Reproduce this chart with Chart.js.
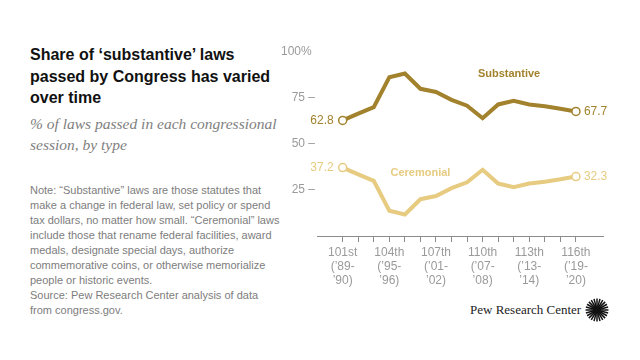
<!DOCTYPE html>
<html>
<head>
<meta charset="utf-8">
<script src="https://cdn.jsdelivr.net/npm/chart.js@4/dist/chart.umd.min.js"></script>
<style>
  html, body { margin: 0; padding: 0; background: #fff; }
  #wrap { position: relative; width: 640px; height: 360px; overflow: hidden; font-family: "Liberation Sans", Arial, sans-serif; }
  #title { position: absolute; left: 30px; top: 44px; font-size: 16px; font-weight: bold; line-height: 21.5px; color: #111; white-space: nowrap; }
  #subtitle { position: absolute; left: 30px; top: 113px; font-family: "Liberation Serif", serif; font-style: italic; font-size: 15.5px; line-height: 21px; color: #808080; white-space: nowrap; }
  #note { position: absolute; left: 30px; top: 183px; font-size: 11px; line-height: 15px; color: #7d7d7d; white-space: nowrap; }
  #brand { position: absolute; left: 470px; top: 302px; font-family: "Liberation Serif", serif; font-size: 13px; color: #222; white-space: nowrap; }
  #logo { position: absolute; left: 585px; top: 298px; }
  canvas { position: absolute; left: 0; top: 0; }
</style>
</head>
<body>
<div id="wrap">
  <div id="title">Share of ‘substantive’ laws<br>passed by Congress has varied<br>over time</div>
  <div id="subtitle">% of laws passed in each congressional<br>session, by type</div>
  <div id="note">Note: “Substantive” laws are those statutes that<br>make a change in federal law, set policy or spend<br>tax dollars, no matter how small. “Ceremonial” laws<br>include those that rename federal facilities, award<br>medals, designate special days, authorize<br>commemorative coins, or otherwise memorialize<br>people or historic events.<br>Source: Pew Research Center analysis of data<br>from congress.gov.</div>
  <div id="brand">Pew Research Center</div>
  <svg id="logo" width="24" height="24" viewBox="0 0 24 24"></svg>
  <canvas id="chart" width="640" height="360"></canvas>
</div>
<script>
// congress numbers, 101st ('89-'90) to 116th ('19-'20)
const congress = [101, 102, 103, 104, 105, 106, 107, 108, 109, 110, 111, 112, 113, 114, 115, 116];
const substantive = [62.8, 66.5, 70.0, 86.3, 88.3, 80.0, 78.3, 74.0, 70.8, 64.0, 71.5, 73.5, 71.5, 70.5, 69.2, 67.7];
const ceremonial = [37.2, 33.5, 30.0, 13.7, 11.7, 20.0, 21.7, 26.0, 29.2, 36.0, 28.5, 26.5, 28.5, 29.5, 30.8, 32.3];

const labelledCongress = [101, 104, 107, 110, 113, 116];
const congressNames = ["101st", "104th", "107th", "110th", "113th", "116th"];
const congressYears = [["(’89-", "’90)"], ["(’95-", "’96)"], ["(’01-", "’02)"], ["(’07-", "’08)"], ["(’13-", "’14)"], ["(’19-", "’20)"]];
const yTicks = [25, 50, 75, 100];

const darkGold = "#a2822d";
const lightGold = "#e6cb81";

// pew sunburst
const svg = document.getElementById("logo");
let rays = "";
for (let i = 0; i < 24; i++) {
  const a = i * Math.PI * 2 / 24;
  rays += `<line x1="${12 + 3 * Math.cos(a)}" y1="${12 + 3 * Math.sin(a)}" x2="${12 + 11.5 * Math.cos(a)}" y2="${12 + 11.5 * Math.sin(a)}" stroke="#111" stroke-width="1.5"/>`;
}
svg.innerHTML = rays + '<circle cx="12" cy="12" r="3.8" fill="#111"/>';

const points = vals => congress.map((c, i) => ({ x: c, y: vals[i] }));
const endsOnly = ctx => (ctx.dataIndex === 0 || ctx.dataIndex === congress.length - 1) ? 4 : 0;

const labelPlugin = {
  id: "labels",
  afterDatasetsDraw(chart) {
    const { ctx, scales: { x, y } } = chart;
    const last = congress.length - 1;
    ctx.save();
    ctx.textBaseline = "middle";
    ctx.font = "12px 'Liberation Sans', Arial, sans-serif";
    [[substantive, darkGold], [ceremonial, lightGold]].forEach(([vals, col]) => {
      ctx.fillStyle = col;
      ctx.textAlign = "right";
      ctx.fillText(vals[0].toFixed(1), x.getPixelForValue(congress[0]) - 9, y.getPixelForValue(vals[0]));
      ctx.textAlign = "left";
      ctx.fillText(vals[last].toFixed(1), x.getPixelForValue(congress[last]) + 8, y.getPixelForValue(vals[last]));
    });
    ctx.font = "bold 11px 'Liberation Sans', Arial, sans-serif";
    ctx.textAlign = "center";
    ctx.fillStyle = darkGold;
    ctx.fillText("Substantive", x.getPixelForValue(111.7), y.getPixelForValue(88));
    ctx.fillStyle = lightGold;
    ctx.fillText("Ceremonial", x.getPixelForValue(106), y.getPixelForValue(34.4));
    ctx.restore();
  }
};

new Chart(document.getElementById("chart"), {
  type: "line",
  data: {
    datasets: [
      { label: "Substantive", data: points(substantive), borderColor: darkGold, borderWidth: 4, pointRadius: endsOnly, pointBackgroundColor: "#fff", pointBorderColor: darkGold, pointBorderWidth: 1.5 },
      { label: "Ceremonial", data: points(ceremonial), borderColor: lightGold, borderWidth: 4, pointRadius: endsOnly, pointBackgroundColor: "#fff", pointBorderColor: lightGold, pointBorderWidth: 1.5 }
    ]
  },
  options: {
    responsive: false,
    animation: false,
    layout: { padding: { left: 280, right: 37, top: 52, bottom: 64 } },
    plugins: { legend: { display: false }, tooltip: { enabled: false } },
    scales: {
      x: {
        type: "linear",
        min: 99.35,
        max: 117.74,
        afterBuildTicks: s => { s.ticks = congress.map(v => ({ value: v })); },
        afterFit: s => { s.height = 60; },
        grid: { drawOnChartArea: false, drawTicks: true, tickLength: 6, color: "#8c8c8c" },
        border: { display: true, color: "#8c8c8c" },
        ticks: {
          autoSkip: false,
          maxRotation: 0,
          padding: 3,
          color: "#9a9a9a",
          font: { family: "'Liberation Sans', Arial, sans-serif", size: 12 },
          callback: v => {
            const k = labelledCongress.indexOf(v);
            return k < 0 ? "" : [congressNames[k], ...congressYears[k]];
          }
        }
      },
      y: {
        min: 0,
        max: 100,
        afterBuildTicks: s => { s.ticks = yTicks.map(v => ({ value: v })); },
        afterFit: s => { s.width = 37; },
        grid: { display: false },
        border: { display: false },
        ticks: {
          padding: -6,
          color: "#9a9a9a",
          font: { family: "'Liberation Sans', Arial, sans-serif", size: 12 },
          callback: v => v === 100 ? "100% " : v + " –"
        }
      }
    }
  },
  plugins: [labelPlugin]
});
</script>
</body>
</html>
